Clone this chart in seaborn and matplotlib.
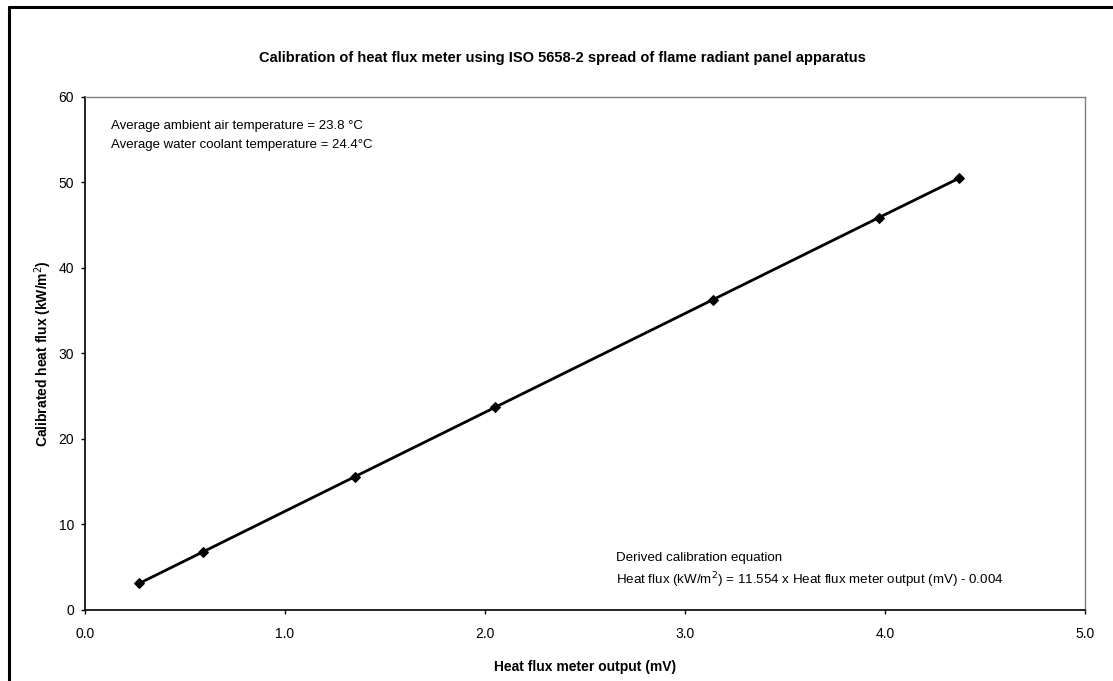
import numpy as np
import pandas as pd

import matplotlib
matplotlib.use('Agg')
import matplotlib.pyplot as plt
import seaborn as sns
from matplotlib.lines import Line2D

# Calibration readings.
meter_output_mv = [0.27, 0.59, 1.35, 2.05, 3.14, 3.97, 4.37]
heat_flux_kw = [3.1, 6.8, 15.6, 23.7, 36.3, 45.9, 50.5]
x_ticks = [0.0, 1.0, 2.0, 3.0, 4.0, 5.0]
y_ticks = [0, 10, 20, 30, 40, 50, 60]

df = pd.DataFrame({'mv': meter_output_mv, 'flux': heat_flux_kw})

sns.set_theme(style='white')
plt.rcParams['font.family'] = ['Liberation Sans', 'DejaVu Sans']
plt.rcParams['text.color'] = 'black'
plt.rcParams['axes.labelcolor'] = 'black'

fig = plt.figure(figsize=(11.13, 6.81), dpi=100)
ax = fig.add_axes([0.0764, 0.1043, 0.8985, 0.7533])

sns.lineplot(
    data=df, x='mv', y='flux', ax=ax,
    color='black', linewidth=2, marker='D', markersize=5,
    markeredgecolor='black', markerfacecolor='black',
)

ax.set_xlim(0, 5)
ax.set_ylim(0, 60)
ax.set_xticks(x_ticks)
ax.set_xticklabels([f'{t:.1f}' for t in x_ticks])
ax.set_yticks(y_ticks)
ax.tick_params(axis='both', labelsize=10, colors='black', direction='out',
               length=3, width=1, left=True, bottom=True)
ax.tick_params(axis='x', pad=9)
ax.tick_params(axis='y', pad=5)

for side in ['left', 'bottom']:
    ax.spines[side].set_color('black')
    ax.spines[side].set_linewidth(1.2)
for side in ['top', 'right']:
    ax.spines[side].set_color('#808080')
    ax.spines[side].set_linewidth(1)

ax.set_xlabel('Heat flux meter output (mV)', fontsize=10, fontweight='bold', va='center')
ax.xaxis.set_label_coords(0.5, -0.112)
ax.set_ylabel('Calibrated heat flux (kW/m$^2$)', fontsize=10, fontweight='bold', va='center')
ax.yaxis.set_label_coords(-0.042, 0.5)

fig.text(0.505, 0.915,
         'Calibration of heat flux meter using ISO 5658-2 spread of flame radiant panel apparatus',
         ha='center', va='center', fontsize=10.5, fontweight='bold')

# Notes inside the plot area.
ax.text(0.026, 0.943, 'Average ambient air temperature = 23.8 \u00b0C',
        transform=ax.transAxes, ha='left', va='center', fontsize=9.5)
ax.text(0.026, 0.906, 'Average water coolant temperature = 24.4\u00b0C',
        transform=ax.transAxes, ha='left', va='center', fontsize=9.5)
ax.text(0.531, 0.101, 'Derived calibration equation',
        transform=ax.transAxes, ha='left', va='center', fontsize=9.6)
ax.text(0.531, 0.058, 'Heat flux (kW/m$^2$) = 11.554 x Heat flux meter output (mV) - 0.004',
        transform=ax.transAxes, ha='left', va='center', fontsize=9.6)

# Chart frame: only the left and top edges fall inside the image.
fx, fy = 9 / 1113, 1 - 7 / 681
fig.add_artist(Line2D([fx, fx], [0, fy], transform=fig.transFigure, color='black', linewidth=2.2))
fig.add_artist(Line2D([fx, 1], [fy, fy], transform=fig.transFigure, color='black', linewidth=2.2))

fig.savefig('out.png', dpi=100)
